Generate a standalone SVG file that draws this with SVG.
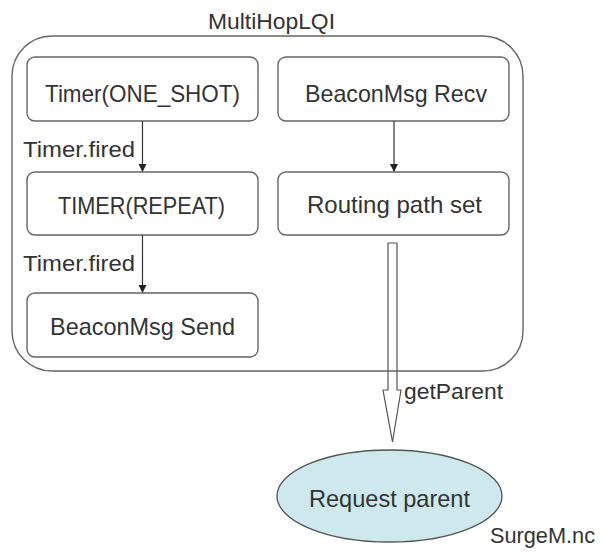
<svg xmlns="http://www.w3.org/2000/svg" width="602" height="552" viewBox="0 0 602 552">
<defs>
<style>
.frame{fill:#fff;stroke:#666;stroke-width:1.4}
.box{fill:#fff;stroke:#666;stroke-width:1.4}
.t{font-family:"Liberation Sans",Arial,sans-serif;fill:#333;font-size:24px}
.lbl{font-family:"Liberation Sans",Arial,sans-serif;fill:#333;font-size:22px}
.edge{stroke:#333;stroke-width:1.2;fill:none}
.hollow{fill:none;stroke:#555;stroke-width:1.2}
</style>
<marker id="ah" markerWidth="8" markerHeight="10" refX="7" refY="4" orient="auto" markerUnits="userSpaceOnUse">
<path d="M0,0 L8,4 L0,8 Z" fill="#222"/>
</marker>
</defs>
<rect width="602" height="552" fill="#fff"/>
<g id="multihoplqi">
<rect class="frame" x="12" y="36" width="511" height="335" rx="40" ry="40"/>
<text class="lbl" x="208" y="29" font-size="20" textLength="127" lengthAdjust="spacingAndGlyphs">MultiHopLQI</text>
</g>
<g id="timer-oneshot">
<rect class="box" x="27" y="57" width="231" height="64" rx="8"/>
<text class="t" x="45" y="102" textLength="195" lengthAdjust="spacingAndGlyphs">Timer(ONE_SHOT)</text>
</g>
<g id="timer-repeat">
<rect class="box" x="27" y="172" width="231" height="63" rx="8"/>
<text class="t" x="58" y="214" textLength="167" lengthAdjust="spacingAndGlyphs">TIMER(REPEAT)</text>
</g>
<g id="beacon-send">
<rect class="box" x="27" y="293" width="231" height="64" rx="8"/>
<text class="t" x="50" y="335" textLength="185" lengthAdjust="spacingAndGlyphs">BeaconMsg Send</text>
</g>
<g id="beacon-recv">
<rect class="box" x="278" y="57" width="231" height="64" rx="8"/>
<text class="t" x="305" y="102" textLength="182" lengthAdjust="spacingAndGlyphs">BeaconMsg Recv</text>
</g>
<g id="routing-path">
<rect class="box" x="278" y="172" width="231" height="63" rx="8"/>
<text class="t" x="307" y="213" textLength="175" lengthAdjust="spacingAndGlyphs">Routing path set</text>
</g>
<g id="request-parent">
<ellipse cx="389.5" cy="496" rx="112.5" ry="46" fill="#cde9ee" stroke="#555" stroke-width="1.3"/>
<text class="t" x="309" y="507" textLength="161" lengthAdjust="spacingAndGlyphs">Request parent</text>
<text class="lbl" x="490" y="543" textLength="105" lengthAdjust="spacingAndGlyphs">SurgeM.nc</text>
</g>
<g id="connectors">
<line class="edge" x1="142.5" y1="121" x2="142.5" y2="171" marker-end="url(#ah)"/>
<text class="lbl" x="23" y="157" textLength="112" lengthAdjust="spacingAndGlyphs">Timer.fired</text>
<line class="edge" x1="142.5" y1="235" x2="142.5" y2="292" marker-end="url(#ah)"/>
<text class="lbl" x="23" y="271" textLength="112" lengthAdjust="spacingAndGlyphs">Timer.fired</text>
<line class="edge" x1="394" y1="121" x2="394" y2="171" marker-end="url(#ah)"/>
<polygon class="hollow" points="388,243 397,243 397,390 401,390 392.5,442 383,390 388,390"/>
<text class="lbl" x="404" y="399" textLength="99" lengthAdjust="spacingAndGlyphs">getParent</text>
</g>
</svg>
